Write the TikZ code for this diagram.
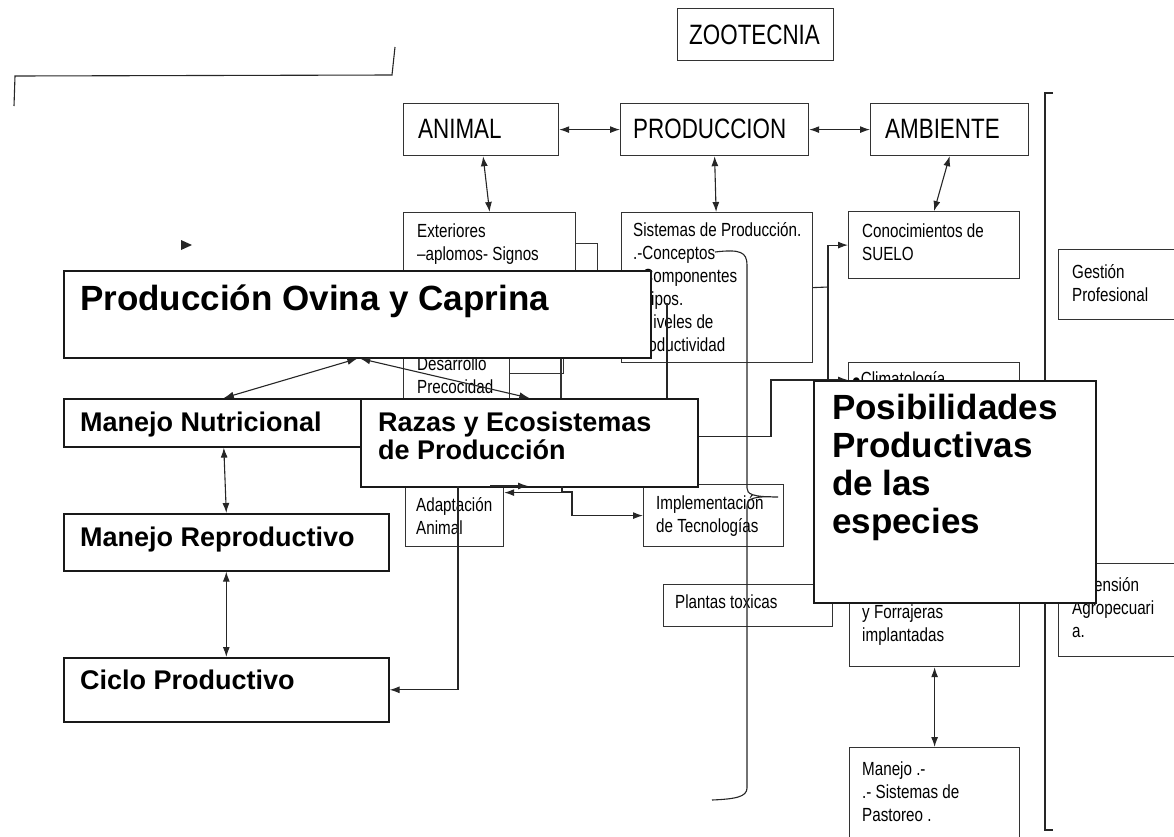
\documentclass[tikz,border=0pt]{standalone}
\usepackage{fontspec}
\setmainfont{Liberation Sans}
\newfontfamily\narrowfont[FakeStretch=0.8]{Liberation Sans}
\usetikzlibrary{arrows.meta}
\begin{document}
\begin{tikzpicture}[x=1pt,y=-1pt,>={Latex[length=10pt,width=7pt]},
  box/.style={draw=black!80, line width=1.2pt, fill=white, anchor=north west, inner sep=0pt},
  bigbox/.style={box, draw=black!90, line width=1.6pt},
  small/.style={anchor=north west, inner sep=0pt, align=left, font=\narrowfont\fontsize{19}{23}\selectfont},
  caps/.style={anchor=base west, inner sep=0pt, font=\narrowfont\fontsize{28}{30}\selectfont},
  heavy/.style={anchor=north west, inner sep=0pt, align=left, font=\bfseries\fontsize{27}{28}\selectfont},
  huge/.style={anchor=north west, inner sep=0pt, align=left, font=\bfseries\fontsize{35}{38}\selectfont},
  conn/.style={line width=1.1pt, draw=black!85}]
\useasboundingbox (0,0) rectangle (1174,836);
\clip (0,0) rectangle (1174,836);

% brackets and stray tip
\draw[conn] (14,106) -- (15,76) -- (392,75) -- (395,47);
\draw[conn] (1053,93) -- (1045,93) -- (1045,830) -- (1053,830);
\fill[black!85] (181,240) -- (192,245) -- (181,250) -- cycle;

% top row
\node[box, minimum width=156, minimum height=52] (zoo) at (677,8) {};
\node[caps] (zoo-t) at (689,44) {ZOOTECNIA};
\node[box, minimum width=155, minimum height=52] (animal) at (403,103) {};
\node[caps] (animal-t) at (418,138) {ANIMAL};
\node[box, minimum width=188, minimum height=52] (produccion) at (620,103) {};
\node[caps] (produccion-t) at (633,138) {PRODUCCION};
\node[box, minimum width=158, minimum height=52] (ambiente) at (870,103) {};
\node[caps] (ambiente-t) at (885,138) {AMBIENTE};

% animal column
\node[box, minimum width=172, minimum height=118] (exter) at (403,212) {};
\node[small] (exter-t) at (417,224) {Exteriores\\–aplomos- Signos};
\node[box, minimum width=22, minimum height=77] (exterb) at (575,243) {};
\node[box, minimum width=106, minimum height=170] (desarr) at (403,300) {};
\node[small] (desarr-t) at (417,357) {Desarrollo\\Precocidad};
\node[box, minimum width=54, minimum height=53] (desarrb) at (509,320) {};
\draw[line width=1.2pt, black!80] (561,320) -- (561,470);
\node[box, minimum width=98, minimum height=96] (adapt) at (405,450) {};
\node[small] (adapt-t) at (416,497) {Adaptación\\Animal};

% produccion column
\node[box, minimum width=191, minimum height=150] (sistemas) at (621,212) {};
\node[small] (sistemas-t) at (633,222) {Sistemas de Producción.\\.-Conceptos\\.-Componentes\\.-Tipos.\\.-Niveles de\\Productividad};
\node[box, minimum width=140, minimum height=62] (implem) at (643,484) {};
\node[small] (implem-t) at (656,495) {Implementación\\de Tecnologías};
\node[box, minimum width=169, minimum height=42] (plantas) at (663,584) {};
\node[small] (plantas-t) at (675,595) {Plantas toxicas};

% ambiente column
\node[box, minimum width=171, minimum height=67] (suelo) at (848,211) {};
\node[small] (suelo-t) at (862,224) {Conocimientos de\\SUELO};
\node[box, minimum width=171, minimum height=180] (clima) at (848,362) {};
\node[small] (clima-t) at (852,371) {$\bullet$Climatología};
\node[box, minimum width=170, minimum height=126] (forraj) at (849,540) {};
\node[small] (forraj-t) at (862,605) {y Forrajeras\\implantadas};
\node[box, minimum width=170, minimum height=95] (pastoreo) at (849,747) {};
\node[small] (pastoreo-t) at (862,762) {Manejo .-\\.- Sistemas de\\Pastoreo .};
\node[box, minimum width=120, minimum height=70] (gestion) at (1058,249) {};
\node[small] (gestion-t) at (1072,264) {Gestión\\Profesional};
\node[box, minimum width=120, minimum height=93] (extension) at (1058,563) {};
\node[small] (extension-t) at (1072,577) {Extensión\\Agropecuari\\a.};

% connectors of the background map
\draw[conn,<->] (animal) -- (produccion);
\draw[conn,<->] (produccion) -- (ambiente);
\draw[conn,<->] ([xshift=2pt]animal.south) -- (exter.north);
\draw[conn,<->] (produccion.south) -- ([xshift=-1pt]sistemas.north);
\draw[conn,<->] (ambiente.south) -- (suelo.north);
\draw[conn,<->] (forraj.south) -- (pastoreo.north);
\coordinate (j1) at (828,287);
\draw[conn] (sistemas.east) -- (j1);
\draw[conn,->] (j1) |- (suelo.west);
\draw[conn] (j1) -- (828,400);
\coordinate (j7) at (667,303);
\draw[conn] (j7) -- (667,450);
\coordinate (bt) at (715,252);
\coordinate (bm) at (778,497);
\coordinate (bb) at (712,800);
\draw[conn] (bt) .. controls (740,249) and (747,252) .. (747,265) -- (747,488)
  .. controls (747,494) and (752,497) .. (bm)
  (bm) .. controls (755,496) and (747,498) .. (747,506) -- (747,788)
  .. controls (747,797) and (735,799) .. (bb);

% main boxes
\node[bigbox, minimum width=587, minimum height=87] (ovina) at (63,270) {};
\node[huge] (ovina-t) at (80,285) {Producción Ovina y Caprina};
\node[bigbox, minimum width=320, minimum height=48] (nutri) at (63,398) {};
\node[heavy] (nutri-t) at (80,412) {Manejo Nutricional};
\node[bigbox, minimum width=337, minimum height=88] (razas) at (360,398) {};
\node[heavy] (razas-t) at (378,412) {Razas y Ecosistemas\\de Producción};
\node[bigbox, minimum width=325, minimum height=57] (reprod) at (63,513) {};
\node[heavy] (reprod-t) at (80,527) {Manejo Reproductivo};
\node[bigbox, minimum width=325, minimum height=64] (ciclo) at (63,657) {};
\node[heavy] (ciclo-t) at (80,670) {Ciclo Productivo};

% connectors from razas
\coordinate (j2) at (771,380);
\draw[conn,->] ([yshift=6pt]razas.east) -| (j2) -- (clima.west |- j2);
\coordinate (j3) at (458,486);
\draw[conn,->] (j3) |- (ciclo.east);
\coordinate (j4) at (528,486);
\draw[conn,->] (490,486) -- (j4);
\coordinate (j5) at (562,486);
\coordinate (j6) at (572,492);
\draw[conn,->] (j5) |- ([yshift=6pt]adapt.east);
\draw[conn,->] (j5) |- (j6) |- (implem.west);

\node[bigbox, minimum width=282, minimum height=222] (posib) at (813,380) {};
\node[huge] (posib-t) at (832,394) {Posibilidades\\Productivas\\de las\\especies};

% connectors of the main boxes
\draw[conn,<->] (ovina.south) -- (nutri.north);
\draw[conn,<->] ([xshift=3pt]ovina.south) -- (razas.north);
\draw[conn,<->] (nutri.south) -- (reprod.north);
\draw[conn,<->] (reprod.south) -- (ciclo.north);
\end{tikzpicture}
\end{document}
